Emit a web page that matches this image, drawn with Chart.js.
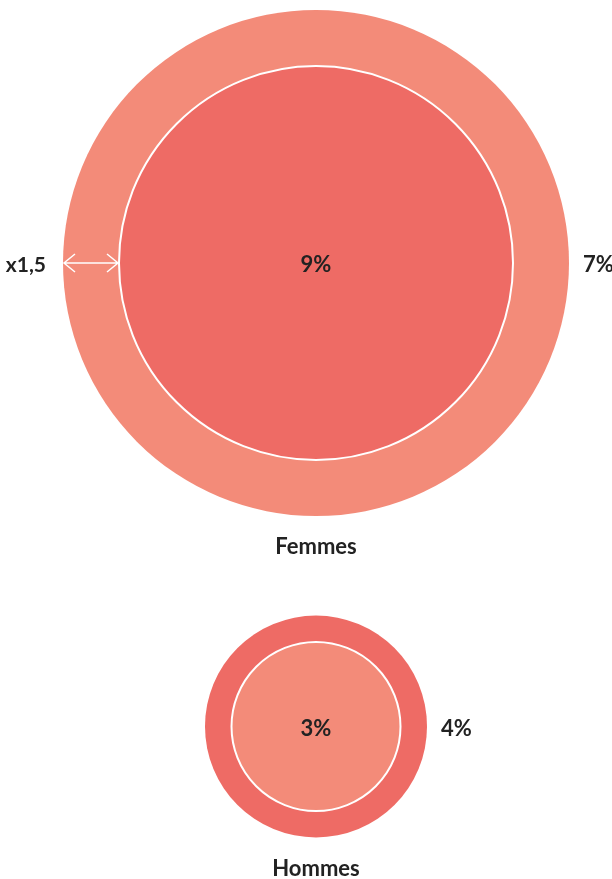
<!DOCTYPE html>
<html>
<head>
<meta charset="utf-8">
<script src="https://cdn.jsdelivr.net/npm/chart.js@4/dist/chart.umd.min.js"></script>
<style>
  html, body { margin: 0; padding: 0; background: #ffffff; }
  #wrap { width: 612px; height: 879px; position: relative; }
</style>
</head>
<body>
<div id="wrap"><canvas id="c"></canvas></div>
<script>
// ---- data ----
const groups = ['Femmes', 'Hommes'];
const innerValues = [9, 3];        // % shown inside the inner circle
const outerValues = [7, 4];        // % shown to the right of the outer circle
const ratioLabels = ['x1,5', ''];  // ratio annotation on the left

// ---- styles (sizes/colours, not data) ----
const OUTER_R = [253, 111];
const INNER_R = [197, 84.5];
const SALMON = '#F38B79';
const CORAL = '#EE6B65';
const OUTER_COLORS = [SALMON, CORAL];
const INNER_COLORS = [CORAL, SALMON];
const TEXT = '#222222';
const FONT = 'Lato, "Open Sans", sans-serif';

const labelsPlugin = {
  id: 'labels',
  afterDatasetsDraw(chart) {
    const ctx = chart.ctx;
    const xs = chart.scales.x, ys = chart.scales.y;
    const outerMeta = chart.getDatasetMeta(1);
    const innerMeta = chart.getDatasetMeta(0);
    ctx.save();
    ctx.fillStyle = TEXT;
    ctx.font = 'bold 22px ' + FONT;
    ctx.textBaseline = 'middle';
    groups.forEach((g, i) => {
      const cx = xs.getPixelForValue(0);
      const cy = ys.getPixelForValue(i);
      const ro = outerMeta.data[i].options.radius;
      const ri = innerMeta.data[i].options.radius;
      // inner value
      ctx.textAlign = 'center';
      ctx.fillText(innerValues[i] + '%', cx, cy + 2);
      // outer value
      ctx.textAlign = 'left';
      ctx.fillText(outerValues[i] + '%', cx + ro + 14, cy + 2);
      // group label
      ctx.textAlign = 'center';
      ctx.fillText(g, cx, cy + ro + 31);
      // ratio annotation
      if (ratioLabels[i]) {
        ctx.font = 'bold 21px ' + FONT;
        ctx.textAlign = 'right';
        ctx.fillText(ratioLabels[i], cx - ro - 17, cy + 2);
        ctx.font = 'bold 22px ' + FONT;
        const x1 = cx - ro + 1, x2 = cx - ri - 1;
        ctx.strokeStyle = '#ffffff';
        ctx.lineWidth = 1.5;
        ctx.lineJoin = 'miter';
        ctx.beginPath();
        ctx.moveTo(x1, cy); ctx.lineTo(x2, cy);
        ctx.moveTo(x1 + 11, cy - 9); ctx.lineTo(x1, cy); ctx.lineTo(x1 + 11, cy + 9);
        ctx.moveTo(x2 - 11, cy - 9); ctx.lineTo(x2, cy); ctx.lineTo(x2 - 11, cy + 9);
        ctx.stroke();
      }
    });
    ctx.restore();
  }
};

new Chart(document.getElementById('c'), {
  type: 'bubble',
  data: {
    datasets: [
      {
        label: 'inner',
        data: groups.map((g, i) => ({ x: 0, y: i, r: INNER_R[i], v: innerValues[i] })),
        backgroundColor: INNER_COLORS,
        borderColor: '#ffffff',
        borderWidth: 2,
        hoverBorderWidth: 2
      },
      {
        label: 'outer',
        data: groups.map((g, i) => ({ x: 0, y: i, r: OUTER_R[i], v: outerValues[i] })),
        backgroundColor: OUTER_COLORS,
        borderWidth: 0,
        hoverBorderWidth: 0
      }
    ]
  },
  options: {
    responsive: true,
    maintainAspectRatio: false,
    animation: false,
    events: [],
    layout: { padding: 0, autoPadding: false },
    clip: false,
    plugins: { legend: { display: false }, tooltip: { enabled: false } },
    scales: {
      x: { type: 'linear', display: false, min: -316, max: 296 },
      y: { type: 'linear', display: false, reverse: true, min: -263 / 463.5, max: (879 - 263) / 463.5 }
    }
  },
  plugins: [labelsPlugin]
});
</script>
</body>
</html>
